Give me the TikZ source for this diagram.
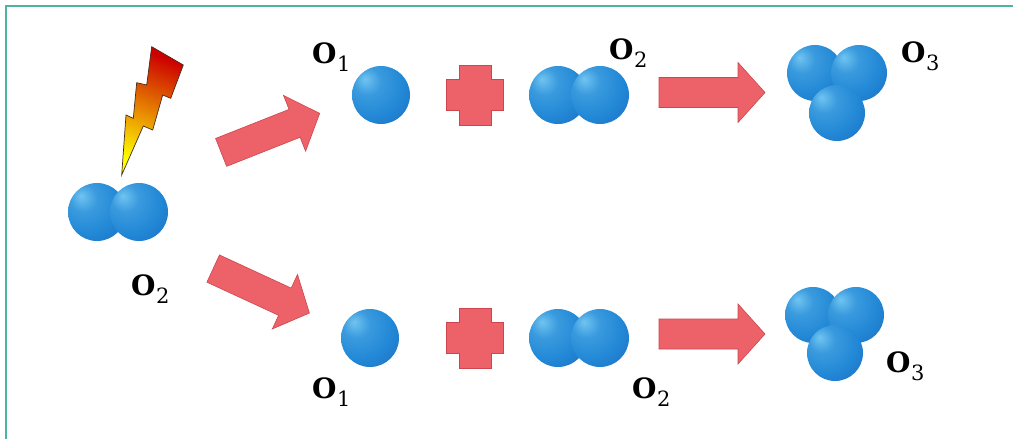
\documentclass[tikz,border=0pt]{standalone}
\usepackage{fontspec}
\setmainfont{DejaVu Serif}
\definecolor{frameteal}{RGB}{80,178,160}
\definecolor{arrowred}{RGB}{236,98,104}
\definecolor{arrowedge}{RGB}{205,70,78}
\definecolor{sphHi}{RGB}{112,196,240}
\definecolor{sphMid}{RGB}{34,136,214}
\definecolor{sphDark}{RGB}{24,62,160}
\definecolor{boltedge}{RGB}{70,45,30}
% glossy blue ball, highlight towards the upper left
\pgfdeclareradialshading{spherebl}{\pgfpoint{-14bp}{14bp}}{%
  color(0bp)=(sphHi); color(12bp)=(sphMid!70!sphHi); color(28bp)=(sphMid);
  color(46bp)=(sphMid!60!sphDark); color(60bp)=(sphDark); color(80bp)=(sphDark)}
\newcommand{\oxlabel}[1]{\textbf{O}\kern0.5pt\raisebox{-8.5pt}{\fontsize{21}{23}\selectfont #1}}
\begin{document}
\begin{tikzpicture}[x=1pt,y=-1pt,
  atom/.style={circle, inner sep=0pt, minimum size=58pt, shade, shading=spherebl},
  triatom/.style={atom, minimum size=56pt},
  formula/.style={anchor=base west, inner sep=0pt, font=\fontsize{28}{30}\selectfont},
  blockfill/.style={fill=arrowred, draw=arrowedge, line width=0.6pt, line join=miter},
  bigarrow/.pic={\path[blockfill] (-53,-15) -- (26,-15) -- (26,-30) -- (53,0)
      -- (26,30) -- (26,15) -- (-53,15) -- cycle;},
  plussign/.pic={\path[blockfill] (-16,-30) -- (16,-30) -- (16,-15.5) -- (28.5,-15.5)
      -- (28.5,15.5) -- (16,15.5) -- (16,30) -- (-16,30) -- (-16,15.5) -- (-28.5,15.5)
      -- (-28.5,-15.5) -- (-16,-15.5) -- cycle;}
]
\useasboundingbox (0,0) rectangle (1013,439);
\fill[white] (0,0) rectangle (1013,439);

% frame
\draw[frameteal, line width=2pt] (6,439) -- (6,6) -- (1013,6);

% reaction arrows
\pic[rotate=21.6] at (270.4,132.9) {bigarrow};
\pic[rotate=-24.8] at (261.3,290.8) {bigarrow};
\pic at (712,92.5) {bigarrow};
\pic at (712,334) {bigarrow};

% plus signs
\pic at (475,95) {plussign};
\pic at (475,338) {plussign};

% starting O2 molecule
\node[atom] (s1) at (97,212) {};
\node[atom] (s2) at (139,212) {};
\node[formula] (lblS) at (131,295) {\oxlabel{2}};

% lightning bolt
\shade[top color=red!80!black, middle color=orange!85!red, bottom color=yellow,
       shading angle=-21, draw=boltedge, line width=0.7pt, line join=miter]
  (121.7,175) -- (126,115) -- (133.3,118.3) -- (136.7,82.7) -- (146.7,85)
  -- (151.7,46.7) -- (183.3,65) -- (170.7,98.3) -- (162.7,95) -- (152.7,130)
  -- (143.3,126) -- cycle;

% upper path: O1 + O2 -> O3
\node[atom] (ua) at (381,95) {};
\node[formula] (lblUa) at (312,63) {\oxlabel{1}};
\node[atom] (ub1) at (558,95) {};
\node[atom] (ub2) at (600,95) {};
\node[formula] (lblUb) at (609,59) {\oxlabel{2}};
\node[triatom] (uc1) at (815,73) {};
\node[triatom] (uc2) at (859,73) {};
\node[triatom] (uc3) at (837,113) {};
\node[formula] (lblUc) at (901,62) {\oxlabel{3}};

% lower path: O1 + O2 -> O3
\node[atom] (la) at (370,338) {};
\node[formula] (lblLa) at (312,398) {\oxlabel{1}};
\node[atom] (lb1) at (558,338) {};
\node[atom] (lb2) at (600,338) {};
\node[formula] (lblLb) at (632,398) {\oxlabel{2}};
\node[triatom] (lc1) at (813,315) {};
\node[triatom] (lc2) at (856,315) {};
\node[triatom] (lc3) at (835,353) {};
\node[formula] (lblLc) at (886,372) {\oxlabel{3}};
\end{tikzpicture}
\end{document}
